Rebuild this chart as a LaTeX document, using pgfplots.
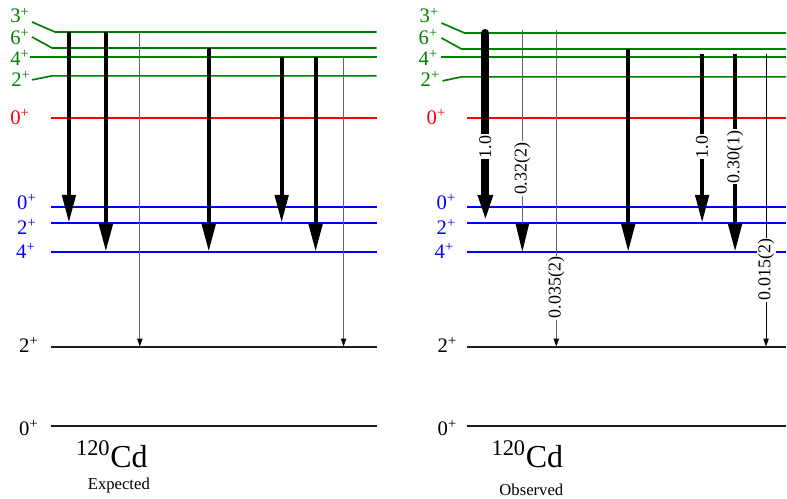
\documentclass[border=0pt]{standalone}
\usepackage{pgfplots}
\pgfplotsset{compat=1.18}
\usepackage{fontspec}
\setmainfont{Liberation Serif}
\usetikzlibrary{arrows.meta}
\definecolor{lvgreen}{RGB}{0,128,0}
\definecolor{lvblack}{RGB}{30,30,30}
\definecolor{thingray}{RGB}{100,100,100}
\tikzset{
  lvl/.style={line width=1.25pt, mark=none},
  thickarr/.style={line width=3pt, black, mark=none, -{Triangle[width=10pt,length=21pt]}},
  thinarr/.style={line width=0.75pt, thingray, mark=none, -{Triangle[width=4pt,length=6pt,color=black]}},
  lab/.style={anchor=base west, font=\fontsize{15.5}{17}\selectfont, inner sep=0pt},
  ilab/.style={rotate=90, fill=white, inner sep=1pt, font=\fontsize{13.5}{15}\selectfont},
}
\begin{document}
\begin{tikzpicture}
\begin{axis}[
  width=590.25pt, height=374.25pt, scale only axis,
  xmin=0, xmax=787, ymin=0, ymax=499, y dir=reverse,
  hide axis, clip=false,
]
% invisible frame to fix the picture's extent
\addplot[draw=none, mark=none] coordinates {(0,0) (787,499)};
% ---------- Left panel: Expected ----------
\addplot[lvl, lvgreen] coordinates {(32,22) (55,32) (377,32)};
\addplot[lvl, lvgreen] coordinates {(32,37) (52,48) (377,48)};
\addplot[lvl, lvgreen] coordinates {(30,57) (377,57)};
\addplot[lvl, lvgreen] coordinates {(32,80) (52,76) (377,76)};
\addplot[lvl, red] coordinates {(51,118) (377,118)};
\addplot[lvl, blue] coordinates {(51,207) (377,207)};
\addplot[lvl, blue] coordinates {(51,223) (377,223)};
\addplot[lvl, blue] coordinates {(51,252) (377,252)};
\addplot[line width=1.5pt, lvblack, mark=none] coordinates {(51,347) (377,347)};
\addplot[line width=1.5pt, lvblack, mark=none] coordinates {(51,427) (377,427)};

\addplot[thickarr] coordinates {(69,32) (69,223)};
\addplot[thickarr] coordinates {(106,32) (106,252)};
\addplot[thinarr] coordinates {(140,32) (140,347)};
\addplot[thickarr] coordinates {(209,48) (209,252)};
\addplot[thickarr] coordinates {(282,57) (282,223)};
\addplot[thickarr] coordinates {(316,57) (316,252)};
\addplot[thinarr] coordinates {(344,57) (344,347)};

\node[lab, lvgreen] at (axis cs:10,23) {3\textsuperscript{+}};
\node[lab, lvgreen] at (axis cs:10,45) {6\textsuperscript{+}};
\node[lab, lvgreen] at (axis cs:10,66) {4\textsuperscript{+}};
\node[lab, lvgreen] at (axis cs:11,87) {2\textsuperscript{+}};
\node[lab, red] at (axis cs:10,125) {0\textsuperscript{+}};
\node[lab, blue] at (axis cs:17,210) {0\textsuperscript{+}};
\node[lab, blue] at (axis cs:17,235) {2\textsuperscript{+}};
\node[lab, blue] at (axis cs:16,259) {4\textsuperscript{+}};
\node[lab, black] at (axis cs:19,353) {2\textsuperscript{+}};
\node[lab, black] at (axis cs:19,436) {0\textsuperscript{+}};

\node[anchor=base, inner sep=0pt, font=\fontsize{24}{29}\selectfont] at (axis cs:112,468) {\textsuperscript{120}Cd};
\node[anchor=base, inner sep=0pt, font=\fontsize{12.5}{14}\selectfont] at (axis cs:119,490) {Expected};

% ---------- Right panel: Observed ----------
\addplot[lvl, lvgreen] coordinates {(442,23) (465,33) (787,33)};
\addplot[lvl, lvgreen] coordinates {(442,38) (462,49) (787,49)};
\addplot[lvl, lvgreen] coordinates {(442,57) (787,57)};
\addplot[lvl, lvgreen] coordinates {(443,81) (462,77) (787,77)};
\addplot[lvl, red] coordinates {(468,118) (787,118)};
\addplot[lvl, blue] coordinates {(468,207) (787,207)};
\addplot[lvl, blue] coordinates {(468,223) (787,223)};
\addplot[lvl, blue] coordinates {(468,252) (787,252)};
\addplot[line width=1.5pt, lvblack, mark=none] coordinates {(468,347) (787,347)};
\addplot[line width=1.5pt, lvblack, mark=none] coordinates {(468,427) (787,427)};

\addplot[line width=6pt, black, line cap=round, mark=none, -{Triangle[width=10pt,length=21pt]}] coordinates {(486,33) (486,223)};
\addplot[line width=0.75pt, thingray, mark=none, -{Triangle[width=10pt,length=21pt,color=black]}] coordinates {(523,30) (523,252)};
\addplot[thinarr] coordinates {(557,30) (557,347)};
\addplot[thickarr, line width=2.8pt] coordinates {(629,49) (629,252)};
\addplot[thickarr] coordinates {(703,54) (703,223)};
\addplot[thickarr] coordinates {(736,54) (736,252)};
\addplot[line width=0.75pt, black, mark=none, -{Triangle[width=4pt,length=6pt]}] coordinates {(767,54) (767,347)};

\node[ilab] at (axis cs:486,147) {1.0};
\node[ilab] at (axis cs:523,169) {0.32(2)};
\node[ilab] at (axis cs:557,288) {0.035(2)};
\node[ilab] at (axis cs:703,147) {1.0};
\node[ilab] at (axis cs:736,157) {0.30(1)};
\node[ilab] at (axis cs:767,270) {0.015(2)};

\node[lab, lvgreen] at (axis cs:420,23) {3\textsuperscript{+}};
\node[lab, lvgreen] at (axis cs:419,45) {6\textsuperscript{+}};
\node[lab, lvgreen] at (axis cs:419,66) {4\textsuperscript{+}};
\node[lab, lvgreen] at (axis cs:421,87) {2\textsuperscript{+}};
\node[lab, red] at (axis cs:427,125) {0\textsuperscript{+}};
\node[lab, blue] at (axis cs:437,210) {0\textsuperscript{+}};
\node[lab, blue] at (axis cs:437,235) {2\textsuperscript{+}};
\node[lab, blue] at (axis cs:435,259) {4\textsuperscript{+}};
\node[lab, black] at (axis cs:438,353) {2\textsuperscript{+}};
\node[lab, black] at (axis cs:438,436) {0\textsuperscript{+}};

\node[anchor=base, inner sep=0pt, font=\fontsize{24}{29}\selectfont] at (axis cs:528,468) {\textsuperscript{120}Cd};
\node[anchor=base, inner sep=0pt, font=\fontsize{12.5}{14}\selectfont] at (axis cs:532,496) {Observed};
\end{axis}
\end{tikzpicture}
\end{document}
